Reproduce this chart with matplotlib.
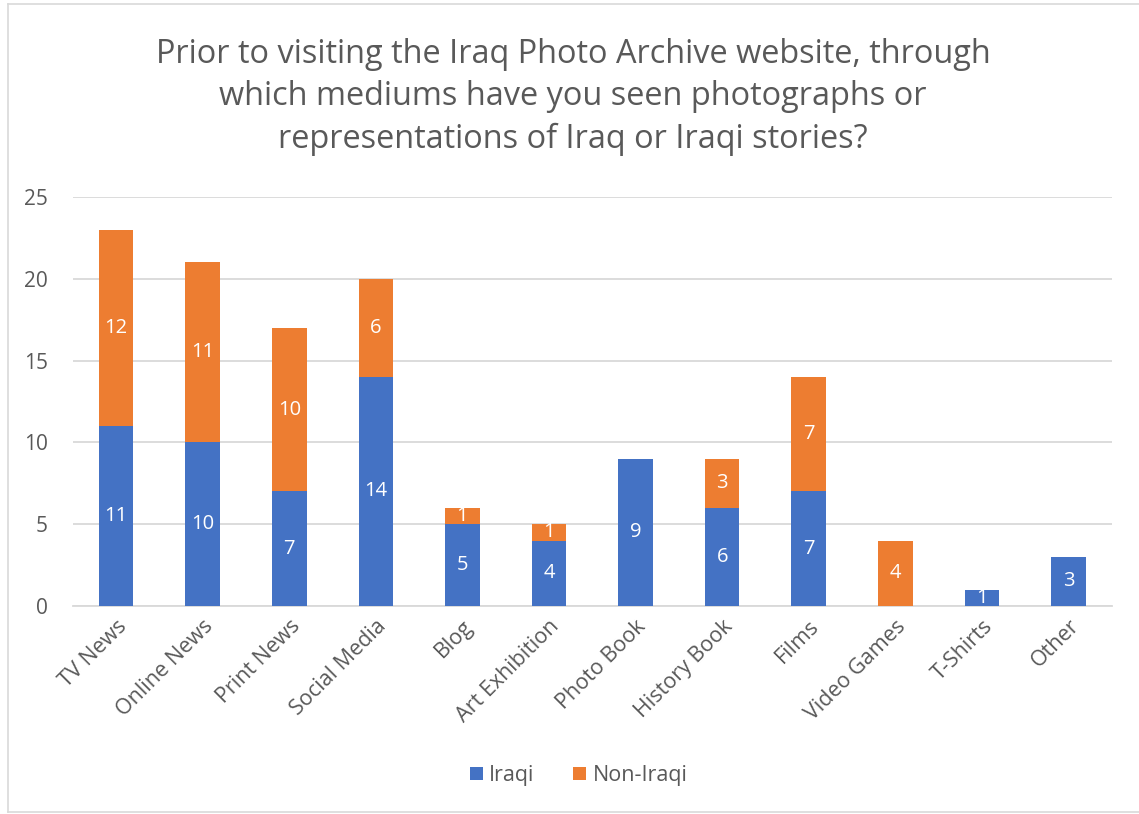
import matplotlib
matplotlib.use("Agg")
import matplotlib.pyplot as plt
from matplotlib.lines import Line2D
import numpy as np

categories = ["TV News", "Online News", "Print News", "Social Media", "Blog",
              "Art Exhibition", "Photo Book", "History Book", "Films",
              "Video Games", "T-Shirts", "Other"]
iraqi = [11, 10, 7, 14, 5, 4, 9, 6, 7, 0, 1, 3]
non_iraqi = [12, 11, 10, 6, 1, 1, 0, 3, 7, 4, 0, 0]
yticks = [0, 5, 10, 15, 20, 25]
title = ("Prior to visiting the Iraq Photo Archive website, through\n"
         "which mediums have you seen photographs or\n"
         "representations of Iraq or Iraqi stories?")

BLUE = "#4472C4"
ORANGE = "#ED7D31"
TEXT = "#595959"
GRID = "#D9D9D9"

plt.rcParams["font.family"] = ["Open Sans", "DejaVu Sans"]

fig = plt.figure(figsize=(11.39, 8.14), dpi=100)
ax = fig.add_axes([0.064, 0.2555, 0.912, 0.5025])

x = np.arange(len(categories))
w = 0.40
b1 = ax.bar(x, iraqi, w, color=BLUE, label="Iraqi", zorder=3)
b2 = ax.bar(x, non_iraqi, w, bottom=iraqi, color=ORANGE, label="Non-Iraqi", zorder=3)

for i in range(len(categories)):
    if iraqi[i] > 0:
        ax.text(x[i], iraqi[i] / 2, str(iraqi[i]), ha="center", va="center",
                color="white", fontsize=14.5, zorder=4)
    if non_iraqi[i] > 0:
        ax.text(x[i], iraqi[i] + non_iraqi[i] / 2, str(non_iraqi[i]), ha="center",
                va="center", color="white", fontsize=14.5, zorder=4)

ax.set_xlim(-0.5, len(categories) - 0.5)
ax.set_ylim(0, 25)
ax.set_yticks(yticks)
ax.set_yticklabels([str(t) for t in yticks])
ax.yaxis.grid(True, color=GRID, linewidth=1.3, zorder=0)
ax.set_axisbelow(True)
for s in ["top", "right", "left"]:
    ax.spines[s].set_visible(False)
ax.spines["bottom"].set_color(GRID)
ax.spines["bottom"].set_linewidth(1.3)
ax.tick_params(axis="y", length=0, labelsize=15, colors=TEXT, pad=18)
ax.tick_params(axis="x", length=0, labelsize=15.5, colors=TEXT, pad=7)
ax.set_xticks(x)
ax.set_xticklabels(categories, rotation=45, ha="right", rotation_mode="anchor")

fig.text(0.503, 0.881, title, ha="center", va="center", fontsize=23.4,
         color=TEXT, linespacing=1.38)

ax.legend(handles=[b1, b2], loc="center", bbox_to_anchor=(0.508, 0.047),
          bbox_transform=fig.transFigure, ncol=2, frameon=False, fontsize=15.5,
          handlelength=0.6, handleheight=0.6, handletextpad=0.3, columnspacing=1.8,
          labelcolor=TEXT)

# chart frame
for (xs, ys) in [([0.007, 0.007], [0.003, 0.995]), ([0.007, 1.0], [0.995, 0.995]),
                 ([0.007, 1.0], [0.003, 0.003])]:
    fig.add_artist(Line2D(xs, ys, transform=fig.transFigure, color=GRID, linewidth=1.2))

fig.savefig("out.png", dpi=100)
